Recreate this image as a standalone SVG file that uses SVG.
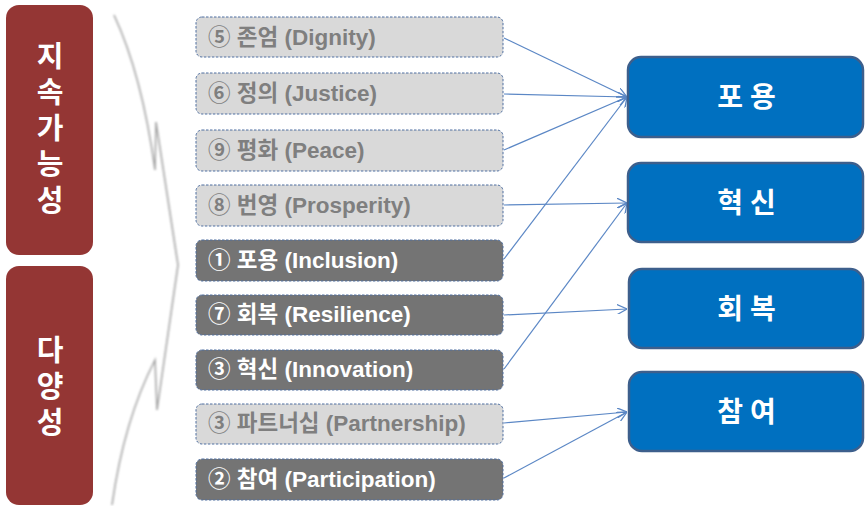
<svg xmlns="http://www.w3.org/2000/svg" width="865" height="506" viewBox="0 0 865 506">
<defs>
<style>
.red{fill:#943634;}
.redt{font-family:"Noto Sans CJK KR",sans-serif;font-weight:bold;font-size:29px;fill:#ffffff;writing-mode:vertical-rl;letter-spacing:7px;}
.lt{fill:#d9d9d9;stroke:#4f6fa0;stroke-width:1;stroke-dasharray:2.5 1.5;}
.dk{fill:#747474;stroke:#4f6fa0;stroke-width:1;stroke-dasharray:2.5 1.5;}
.lbl{font-family:"Liberation Sans","Noto Sans CJK KR",sans-serif;font-weight:bold;font-size:22.5px;}
.ltt{fill:#7f7f7f;}
.dkt{fill:#ffffff;}
.blue{fill:#0070c0;stroke:#3d5f8c;stroke-width:2.5;}
.bt{font-family:"Noto Sans CJK KR",sans-serif;font-weight:bold;font-size:28px;fill:#ffffff;text-anchor:middle;letter-spacing:7px;}
.con{fill:none;stroke:#5b87c5;stroke-width:1.2;}
</style>
<marker id="arr" viewBox="0 0 10 10" refX="10" refY="5" markerWidth="10" markerHeight="10" markerUnits="userSpaceOnUse" orient="auto">
<path d="M0,0 L10,5 L0,10" fill="none" stroke="#5b87c5" stroke-width="1.3"/>
</marker>
<filter id="blur" x="-50%" y="-10%" width="200%" height="120%"><feGaussianBlur stdDeviation="1"/></filter>
</defs>
<rect width="865" height="506" fill="#ffffff"/>

<g id="sustainability">
<rect class="red" x="6" y="5" width="87" height="250" rx="13"/>
<text class="redt" x="50" y="41">지속가능성</text>
</g>
<g id="diversity">
<rect class="red" x="6" y="266" width="87" height="239" rx="13"/>
<text class="redt" x="50" y="335">다양성</text>
</g>

<g id="brace" filter="url(#blur)">
<path d="M114,15 Q142,75 155,170 L156,122 L178,265 L157,410 L155,360 Q124,420 112,505" fill="none" stroke="#a5a5a5" stroke-width="1.6" stroke-linejoin="miter"/>
</g>

<g id="n-dignity"><rect class="lt" x="196" y="17" width="307" height="40" rx="6"/><text class="lbl ltt" x="208" y="45">⑤ 존엄 (Dignity)</text></g>
<g id="n-justice"><rect class="lt" x="196" y="73" width="307" height="41" rx="6"/><text class="lbl ltt" x="208" y="101">⑥ 정의 (Justice)</text></g>
<g id="n-peace"><rect class="lt" x="196" y="130" width="307" height="41" rx="6"/><text class="lbl ltt" x="208" y="158">⑨ 평화 (Peace)</text></g>
<g id="n-prosperity"><rect class="lt" x="196" y="185" width="307" height="41" rx="6"/><text class="lbl ltt" x="208" y="213">⑧ 번영 (Prosperity)</text></g>
<g id="n-inclusion"><rect class="dk" x="196" y="240" width="307" height="41" rx="6"/><text class="lbl dkt" x="208" y="268">① 포용 (Inclusion)</text></g>
<g id="n-resilience"><rect class="dk" x="196" y="295" width="307" height="40" rx="6"/><text class="lbl dkt" x="208" y="322">⑦ 회복 (Resilience)</text></g>
<g id="n-innovation"><rect class="dk" x="196" y="350" width="307" height="40" rx="6"/><text class="lbl dkt" x="208" y="377">③ 혁신 (Innovation)</text></g>
<g id="n-partnership"><rect class="lt" x="196" y="404" width="307" height="40" rx="6"/><text class="lbl ltt" x="208" y="431">③ 파트너십 (Partnership)</text></g>
<g id="n-participation"><rect class="dk" x="196" y="459" width="307" height="41" rx="6"/><text class="lbl dkt" x="208" y="487">② 참여 (Participation)</text></g>

<g id="connectors">
<line class="con" x1="504" y1="38" x2="627" y2="97" marker-end="url(#arr)"/>
<line class="con" x1="504" y1="94" x2="627" y2="97" marker-end="url(#arr)"/>
<line class="con" x1="504" y1="150" x2="627" y2="97" marker-end="url(#arr)"/>
<line class="con" x1="504" y1="259" x2="627" y2="97" marker-end="url(#arr)"/>
<line class="con" x1="504" y1="205" x2="627" y2="203" marker-end="url(#arr)"/>
<line class="con" x1="504" y1="369" x2="627" y2="203" marker-end="url(#arr)"/>
<line class="con" x1="504" y1="315" x2="627" y2="309" marker-end="url(#arr)"/>
<line class="con" x1="504" y1="423" x2="627" y2="412" marker-end="url(#arr)"/>
<line class="con" x1="504" y1="478" x2="627" y2="412" marker-end="url(#arr)"/>
</g>

<g id="b-inclusion"><rect class="blue" x="628" y="57" width="235" height="80" rx="13"/><text class="bt" x="750" y="107">포용</text></g>
<g id="b-innovation"><rect class="blue" x="628" y="163" width="235" height="79" rx="13"/><text class="bt" x="750" y="213">혁신</text></g>
<g id="b-resilience"><rect class="blue" x="629" y="269" width="234" height="79" rx="13"/><text class="bt" x="750" y="319">회복</text></g>
<g id="b-participation"><rect class="blue" x="629" y="372" width="234" height="79" rx="13"/><text class="bt" x="750" y="422">참여</text></g>
</svg>
